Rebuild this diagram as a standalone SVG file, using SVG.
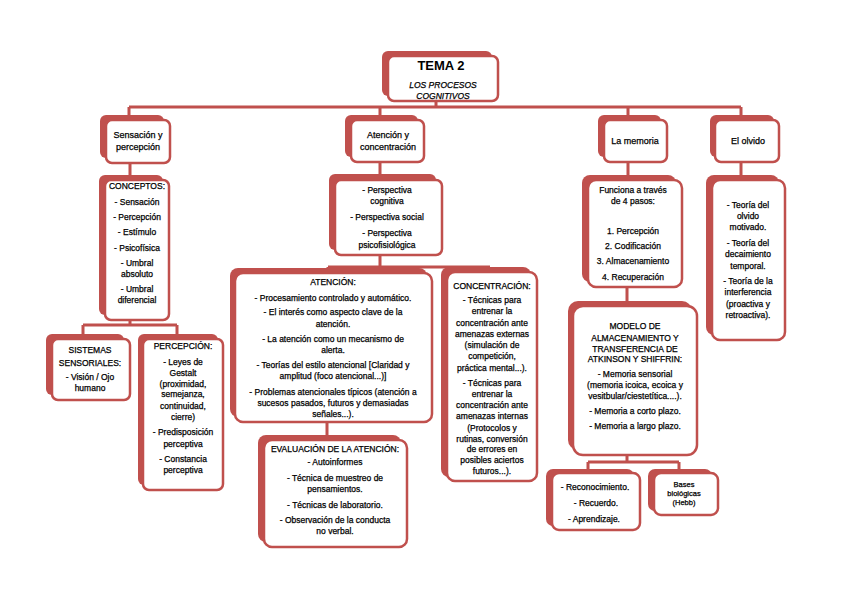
<svg xmlns="http://www.w3.org/2000/svg" width="848" height="599" viewBox="0 0 848 599">
<defs>
<style>
.sh{fill:#c0504d}
.bx{fill:#fff;stroke:#c0504d;stroke-width:2.5}
.ln{fill:none;stroke:#c0504d;stroke-width:3}
text{font-family:"Liberation Sans",Arial,sans-serif;font-size:8.5px;fill:#000;stroke:#000;stroke-width:0.25;text-anchor:middle}
.h{font-size:9px}
.title{font-size:13px;font-weight:bold;stroke-width:0}
.it{font-style:italic}
.sm{font-size:7.5px}
</style>
</defs>
<rect width="848" height="599" fill="#fff"/>
<g id="connectors">
<path class="ln" d="M436 101V107M129 107H741M129 107V118M380 107V118M628 107V118M741 107V118"/>
<path class="ln" d="M130 162V178M130 319V325M83 325H177M83 325V336M177 325V336"/>
<path class="ln" d="M380 161V177M380 254V267M328 267H490M328 267V270M490 267V270M327 420V438"/>
<path class="ln" d="M628 161V178M627 286V303M627 454V462M588 462H679M588 462V472M679 462V472"/>
<path class="ln" d="M741 161V178"/>
</g>
<g id="root">
<rect class="sh" x="382" y="51" width="110" height="45" rx="6"/>
<rect class="bx" x="388" y="56" width="110" height="45" rx="6"/>
<text class="title" x="441" y="70">TEMA 2</text>
<text class="it" x="443" y="88">LOS PROCESOS</text>
<text class="it" x="443" y="99">COGNITIVOS</text>
</g>
<g id="sensacion">
<rect class="sh" x="100" y="115" width="64" height="43" rx="6"/>
<rect class="bx" x="106" y="120" width="64" height="43" rx="6"/>
<text class="h" x="138" y="138">Sensación y</text>
<text class="h" x="138" y="150">percepción</text>
</g>
<g id="atencion-concentracion">
<rect class="sh" x="345" y="115" width="73" height="42" rx="6"/>
<rect class="bx" x="351" y="120" width="73" height="42" rx="6"/>
<text class="h" x="388" y="138">Atención y</text>
<text class="h" x="388" y="150">concentración</text>
</g>
<g id="memoria">
<rect class="sh" x="598" y="115" width="63" height="42" rx="6"/>
<rect class="bx" x="604" y="120" width="63" height="42" rx="6"/>
<text class="h" x="635" y="144">La memoria</text>
</g>
<g id="olvido">
<rect class="sh" x="710" y="115" width="64" height="42" rx="6"/>
<rect class="bx" x="715" y="120" width="64" height="42" rx="6"/>
<text class="h" x="748" y="144">El olvido</text>
</g>
<g id="conceptos">
<rect class="sh" x="99" y="175" width="64" height="140" rx="6"/>
<rect class="bx" x="105" y="180" width="64" height="140" rx="6"/>
<text x="137" y="189">CONCEPTOS:</text>
<text x="137" y="205">- Sensación</text>
<text x="137" y="220">- Percepción</text>
<text x="137" y="235">- Estímulo</text>
<text x="137" y="251">- Psicofísica</text>
<text x="137" y="266">- Umbral</text>
<text x="137" y="277">absoluto</text>
<text x="137" y="292">- Umbral</text>
<text x="137" y="303">diferencial</text>
</g>
<g id="sistemas">
<rect class="sh" x="46" y="334" width="78" height="61" rx="6"/>
<rect class="bx" x="52" y="339" width="78" height="61" rx="6"/>
<text x="90" y="353">SISTEMAS</text>
<text x="90" y="366">SENSORIALES:</text>
<text x="90" y="380">- Visión / Ojo</text>
<text x="90" y="391">humano</text>
</g>
<g id="percepcion">
<rect class="sh" x="138" y="334" width="80" height="151" rx="6"/>
<rect class="bx" x="143" y="339" width="80" height="151" rx="6"/>
<text x="183" y="349">PERCEPCIÓN:</text>
<text x="183" y="365">- Leyes de</text>
<text x="183" y="375.5">Gestalt</text>
<text x="183" y="386.5">(proximidad,</text>
<text x="183" y="397">semejanza,</text>
<text x="183" y="409">continuidad,</text>
<text x="183" y="420">cierre)</text>
<text x="183" y="435">- Predisposición</text>
<text x="183" y="447">perceptiva</text>
<text x="183" y="461.5">- Constancia</text>
<text x="183" y="473">perceptiva</text>
</g>
<g id="perspectivas">
<rect class="sh" x="329" y="174" width="107" height="76" rx="6"/>
<rect class="bx" x="335" y="180" width="107" height="75" rx="6"/>
<text x="387" y="193">- Perspectiva</text>
<text x="387" y="204">cognitiva</text>
<text x="387" y="220">- Perspectiva social</text>
<text x="387" y="235.5">- Perspectiva</text>
<text x="387" y="248">psicofisiológica</text>
</g>
<g id="atencion">
<rect class="sh" x="230" y="268" width="197" height="149" rx="8"/>
<rect class="bx" x="235" y="273" width="197" height="149" rx="8"/>
<text x="333" y="285">ATENCIÓN:</text>
<text x="333" y="300.5">- Procesamiento controlado y automático.</text>
<text x="333" y="315">- El interés como aspecto clave de la</text>
<text x="333" y="326.5">atención.</text>
<text x="333" y="341.5">- La atención como un mecanismo de</text>
<text x="333" y="353">alerta.</text>
<text x="333" y="368">- Teorías del estilo atencional [Claridad y</text>
<text x="333" y="379">amplitud (foco atencional...)]</text>
<text x="333" y="395">- Problemas atencionales típicos (atención a</text>
<text x="333" y="405.5">sucesos pasados, futuros y demasiadas</text>
<text x="333" y="416.5">señales...).</text>
</g>
<g id="evaluacion">
<rect class="sh" x="258" y="435" width="143" height="107" rx="8"/>
<rect class="bx" x="264" y="440" width="143" height="107" rx="8"/>
<text x="335" y="451.5">EVALUACIÓN DE LA ATENCIÓN:</text>
<text x="335" y="465">- Autoinformes</text>
<text x="335" y="480.5">- Técnica de muestreo de</text>
<text x="335" y="491.5">pensamientos.</text>
<text x="335" y="507.5">- Técnicas de laboratorio.</text>
<text x="335" y="522.5">- Observación de la conducta</text>
<text x="335" y="534">no verbal.</text>
</g>
<g id="concentracion">
<rect class="sh" x="441" y="267" width="90" height="210" rx="8"/>
<rect class="bx" x="447" y="272" width="90" height="209" rx="8"/>
<text x="492" y="289">CONCENTRACIÓN:</text>
<text x="492" y="303">- Técnicas para</text>
<text x="492" y="314">entrenar la</text>
<text x="492" y="325.5">concentración ante</text>
<text x="492" y="337">amenazas externas</text>
<text x="492" y="348">(simulación de</text>
<text x="492" y="359">competición,</text>
<text x="492" y="370.5">práctica mental...).</text>
<text x="492" y="385.5">- Técnicas para</text>
<text x="492" y="396.5">entrenar la</text>
<text x="492" y="407.5">concentración ante</text>
<text x="492" y="419">amenazas internas</text>
<text x="492" y="430.5">(Protocolos y</text>
<text x="492" y="441.5">rutinas, conversión</text>
<text x="492" y="452">de errores en</text>
<text x="492" y="463">posibles aciertos</text>
<text x="492" y="474">futuros...).</text>
</g>
<g id="funciona">
<rect class="sh" x="582" y="175" width="94" height="107" rx="8"/>
<rect class="bx" x="588" y="180" width="94" height="107" rx="8"/>
<text x="633" y="192.5">Funciona a través</text>
<text x="633" y="204">de 4 pasos:</text>
<text x="633" y="234">1. Percepción</text>
<text x="633" y="249">2. Codificación</text>
<text x="633" y="264">3. Almacenamiento</text>
<text x="633" y="280">4. Recuperación</text>
</g>
<g id="teorias-olvido">
<rect class="sh" x="706" y="175" width="73" height="160" rx="8"/>
<rect class="bx" x="712" y="180" width="73" height="160" rx="8"/>
<text x="748" y="207.5">- Teoría del</text>
<text x="748" y="219">olvido</text>
<text x="748" y="230">motivado.</text>
<text x="748" y="246">- Teoría del</text>
<text x="748" y="257">decaimiento</text>
<text x="748" y="269">temporal.</text>
<text x="748" y="284">- Teoría de la</text>
<text x="748" y="295">interferencia</text>
<text x="748" y="306.5">(proactiva y</text>
<text x="748" y="317.5">retroactiva).</text>
</g>
<g id="modelo">
<rect class="sh" x="568" y="301" width="124" height="149" rx="10"/>
<rect class="bx" x="573" y="306" width="124" height="149" rx="10"/>
<text x="635" y="329">MODELO DE</text>
<text x="635" y="340.5">ALMACENAMIENTO Y</text>
<text x="635" y="351.5">TRANSFERENCIA DE</text>
<text x="635" y="362">ATKINSON Y SHIFFRIN:</text>
<text x="635" y="376.5">- Memoria sensorial</text>
<text x="635" y="388">(memoria icoica, ecoica y</text>
<text x="635" y="399">vesitbular/ciestetítica....).</text>
<text x="635" y="414">- Memoria a corto plazo.</text>
<text x="635" y="429">- Memoria a largo plazo.</text>
</g>
<g id="reconocimiento">
<rect class="sh" x="546" y="469" width="88" height="57" rx="7"/>
<rect class="bx" x="552" y="473" width="88" height="57" rx="7"/>
<text x="595" y="490">- Reconocimiento.</text>
<text x="596" y="505.5">- Recuerdo.</text>
<text x="594" y="521.5">- Aprendizaje.</text>
</g>
<g id="bases">
<rect class="sh" x="648" y="469" width="64" height="42" rx="7"/>
<rect class="bx" x="654" y="473" width="64" height="42" rx="7"/>
<text class="sm" x="684" y="487">Bases</text>
<text class="sm" x="684" y="496">biológicas</text>
<text class="sm" x="684" y="505">(Hebb)</text>
</g>
</svg>
